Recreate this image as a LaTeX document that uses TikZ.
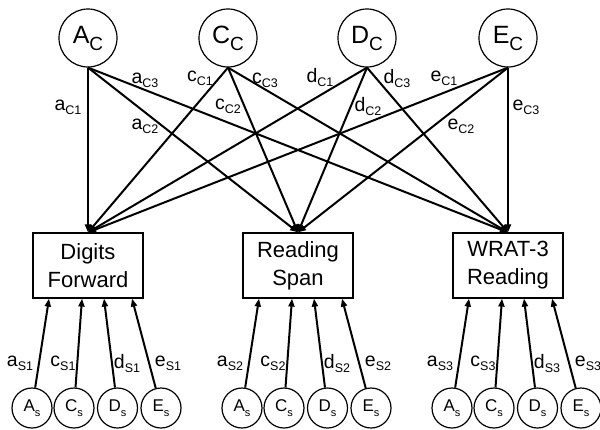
\documentclass[tikz,border=0pt]{standalone}
\usepackage{fontspec}
\setmainfont{Liberation Sans}
\usetikzlibrary{arrows.meta}
\newcommand{\pl}[2]{{\fontsize{19.5}{19.5}\selectfont #1}\raisebox{-4pt}{\fontsize{12.5}{12.5}\selectfont #2}}
\newcommand{\toplab}[2]{{\fontsize{25}{25}\selectfont #1}\raisebox{-7pt}{\fontsize{19}{19}\selectfont #2}}
\newcommand{\botlab}[2]{{\fontsize{17}{17}\selectfont #1}\raisebox{-5pt}{\fontsize{11}{11}\selectfont #2}}
\tikzset{
  topc/.style={circle,draw,line width=1.2pt,minimum size=58pt,inner sep=0pt},
  botc/.style={circle,draw,line width=1.2pt,minimum size=40pt,inner sep=0pt},
  meas/.style={draw,line width=1.2pt,minimum width=110pt,minimum height=65pt,align=center,inner sep=0pt,font=\fontsize{22}{28}\selectfont},
  conn/.style={line width=2pt,-{Triangle[length=8pt,width=6pt]}},
  lab/.style={inner sep=0pt,anchor=center}
}
\begin{document}
\begin{tikzpicture}[x=1pt,y=-1pt]
\useasboundingbox (0,0) rectangle (600,429);
% top latent
\node[topc] (Ac) at (88,38) {\toplab{A}{C}};
\node[topc] (Cc) at (228,38) {\toplab{C}{C}};
\node[topc] (Dc) at (367,38) {\toplab{D}{C}};
\node[topc] (Ec) at (508,38) {\toplab{E}{C}};
% boxes
\node[meas] (DF) at (88,265.5) {Digits\\Forward};
\node[meas] (RS) at (298,265.5) {Reading\\Span};
\node[meas] (WR) at (508,265.5) {WRAT-3\\Reading};
% top connectors
\foreach \s in {Ac,Cc,Dc,Ec}{
  \foreach \t in {DF,RS,WR}{
    \draw[conn] (\s.south) -- (\t.north);
  }
}
% top labels
\node[lab] (lac1) at (68,107) {\pl{a}{C1}};
\node[lab] (lac3) at (145,80) {\pl{a}{C3}};
\node[lab] (lac2) at (145,126) {\pl{a}{C2}};
\node[lab] (lcc1) at (200,78) {\pl{c}{C1}};
\node[lab] (lcc3) at (265,80) {\pl{c}{C3}};
\node[lab] (lcc2) at (228,106) {\pl{c}{C2}};
\node[lab] (ldc1) at (320,77) {\pl{d}{C1}};
\node[lab] (ldc3) at (397,78) {\pl{d}{C3}};
\node[lab] (ldc2) at (368,106) {\pl{d}{C2}};
\node[lab] (lec1) at (444,78) {\pl{e}{C1}};
\node[lab] (lec2) at (461,126) {\pl{e}{C2}};
\node[lab] (lec3) at (526,107) {\pl{e}{C3}};
% bottom groups
\foreach \b/\cx/\n in {DF/88/1,RS/298/2,WR/508/3}{
  \node[botc] (As\n) at (\cx-56,408) {\botlab{A}{s}};
  \node[botc] (Cs\n) at (\cx-14,408) {\botlab{C}{s}};
  \node[botc] (Ds\n) at (\cx+29.5,408) {\botlab{D}{s}};
  \node[botc] (Es\n) at (\cx+73,408) {\botlab{E}{s}};
  \draw[conn] (As\n) -- ([xshift=-39pt]\b.south);
  \draw[conn] (Cs\n) -- ([xshift=-6pt]\b.south);
  \draw[conn] (Ds\n) -- ([xshift=16pt]\b.south);
  \draw[conn] (Es\n) -- ([xshift=44pt]\b.south);
  \node[lab] (las\n) at (\cx-68,363) {\pl{a}{S\n}};
  \node[lab] (lcs\n) at (\cx-25,363) {\pl{c}{S\n}};
  \node[lab] (lds\n) at (\cx+39,363) {\pl{d}{S\n}};
  \node[lab] (les\n) at (\cx+80,363) {\pl{e}{S\n}};
}
\end{tikzpicture}
\end{document}
